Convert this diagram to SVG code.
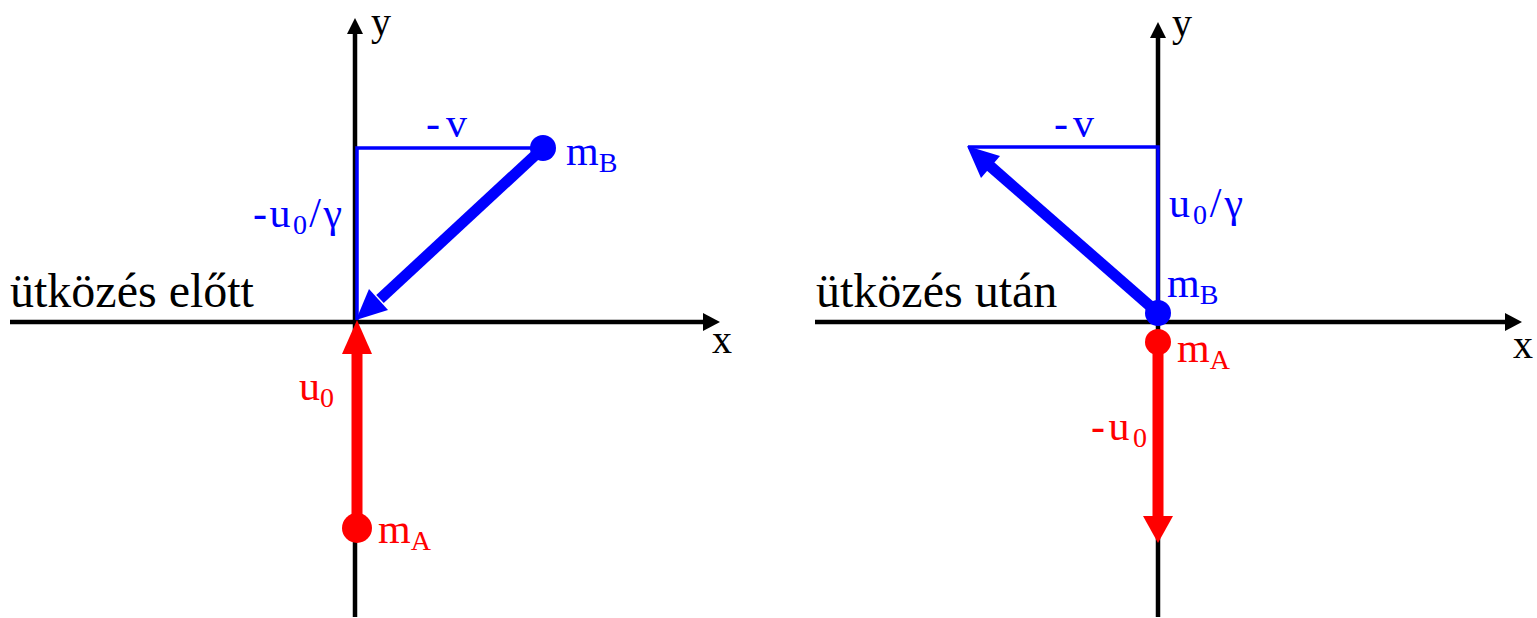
<svg xmlns="http://www.w3.org/2000/svg" width="1537" height="618" viewBox="0 0 1537 618" font-family="'Liberation Serif', 'Times New Roman', serif">
<style>
text{font-family:'Liberation Serif','Times New Roman',serif}
.big{font-size:48px;fill:#000}
.lab{font-size:42px}
.sub{font-size:28px}
.blue{fill:#0000ff}
.red{fill:#ff0000}
.axis{stroke:#000;stroke-width:4.5;fill:none}
.thin{stroke:#0000ff;stroke-width:3.5;fill:none}
.bthick{stroke:#0000ff;stroke-width:11;fill:none}
.rthick{stroke:#ff0000;stroke-width:11;fill:none}
</style>
<rect width="1537" height="618" fill="#fff"/>
<g id="connectors">
  <line class="axis" x1="10" y1="322" x2="705" y2="322"/>
  <polygon points="720,322 703,313 703,331" fill="#000"/>
  <line class="axis" x1="355" y1="617" x2="355" y2="32"/>
  <polygon points="355,18 347,34 363,34" fill="#000"/>
  <line class="axis" x1="815" y1="322" x2="1507" y2="322"/>
  <polygon points="1522,322 1505,313 1505,331" fill="#000"/>
  <line class="axis" x1="1158" y1="617" x2="1158" y2="36"/>
  <polygon points="1158,22 1150,38 1166,38" fill="#000"/>
  <polyline class="thin" points="543,148 357,148 357,320"/>
  <line class="bthick" x1="543" y1="148" x2="380" y2="299"/>
  <polygon points="356,320 388,310 369,289" fill="#0000ff"/>
  <line class="rthick" x1="357" y1="528" x2="357" y2="350"/>
  <polygon points="357,320 342,354 372,354" fill="#ff0000"/>
  <polyline class="thin" points="968,147 1158,147 1158,313"/>
  <line class="bthick" x1="1158" y1="313" x2="990" y2="166"/>
  <polygon points="967,146 1000,156 981,178" fill="#0000ff"/>
  <line class="rthick" x1="1158" y1="342" x2="1158" y2="520"/>
  <polygon points="1158,543 1143,516 1173,516" fill="#ff0000"/>
</g>
<g id="left-mB">
  <circle cx="543" cy="148" r="13" fill="#0000ff"/>
  <text class="lab blue" x="566" y="165">m<tspan class="sub" dy="7">B</tspan></text>
</g>
<g id="left-mA">
  <circle cx="357" cy="528" r="15" fill="#ff0000"/>
  <text class="lab red" x="378" y="543">m<tspan class="sub" dy="7">A</tspan></text>
</g>
<g id="right-mB">
  <circle cx="1158" cy="313" r="13" fill="#0000ff"/>
  <text class="lab blue" x="1167" y="297">m<tspan class="sub" dy="7">B</tspan></text>
</g>
<g id="right-mA">
  <circle cx="1158" cy="342" r="13" fill="#ff0000"/>
  <text class="lab red" x="1177" y="362">m<tspan class="sub" dy="7">A</tspan></text>
</g>
<g id="labels">
  <text class="big" x="10" y="307">ütközés előtt</text>
  <text class="big" x="816" y="307">ütközés után</text>
  <text class="lab" x="712" y="353" style="font-size:40px">x</text>
  <text class="lab" x="1513" y="358" style="font-size:40px">x</text>
  <text class="lab" x="371" y="35" style="font-size:40px">y</text>
  <text class="lab" x="1172" y="36" style="font-size:40px">y</text>
  <text class="lab blue" x="426" y="137" textLength="41" lengthAdjust="spacing">-v</text>
  <text class="lab blue" x="1054" y="137" textLength="40" lengthAdjust="spacing">-v</text>
  <text class="lab blue" x="253" y="227" textLength="89" lengthAdjust="spacing">-u<tspan class="sub" dy="7">0</tspan><tspan dy="-7">/γ</tspan></text>
  <text class="lab blue" x="1169" y="217" textLength="74" lengthAdjust="spacing">u<tspan class="sub" dy="7">0</tspan><tspan dy="-7">/γ</tspan></text>
  <text class="lab red" x="299" y="400">u<tspan class="sub" dy="7">0</tspan></text>
  <text class="lab red" x="1091" y="440" textLength="56" lengthAdjust="spacing">-u<tspan class="sub" dy="7">0</tspan></text>
</g>
</svg>
